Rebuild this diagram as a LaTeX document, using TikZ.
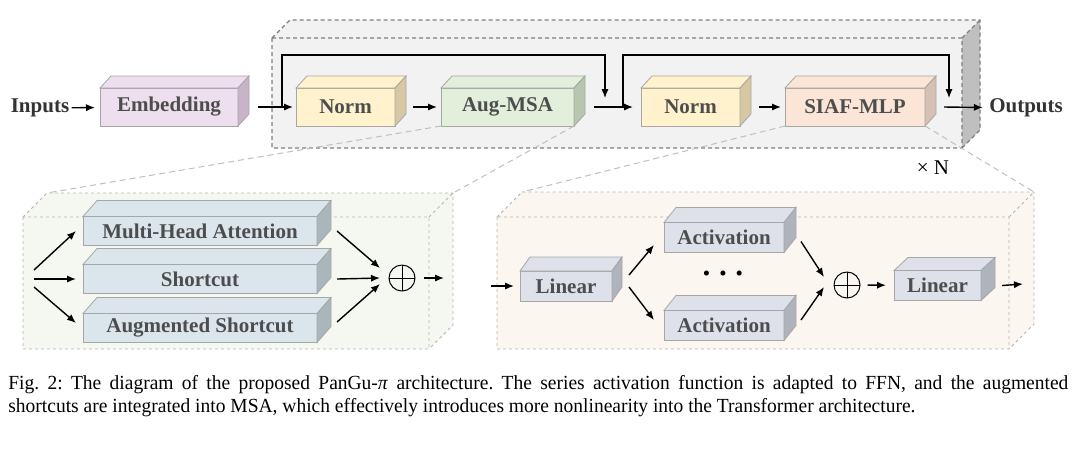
\documentclass[tikz,border=0pt]{standalone}
\usepackage{fontspec}
\setmainfont{Liberation Serif}
\newfontfamily\capfont[FakeStretch=0.975]{Liberation Serif}
\usetikzlibrary{positioning,arrows.meta}

\definecolor{embfill}{HTML}{EEDFEE}
\definecolor{embside}{HTML}{C9B3C8}
\definecolor{normfill}{HTML}{FFF2CC}
\definecolor{normside}{HTML}{D7C8A3}
\definecolor{msafill}{HTML}{E2EFDA}
\definecolor{msaside}{HTML}{B8C6AE}
\definecolor{mlpfill}{HTML}{FBE5D6}
\definecolor{mlpside}{HTML}{D6BFB3}
\definecolor{barfill}{HTML}{DAE6EC}
\definecolor{barside}{HTML}{A9B7BD}
\definecolor{linfill}{HTML}{DEE1EA}
\definecolor{linside}{HTML}{AFB3BC}
\definecolor{blkline}{HTML}{A6A6A6}
\definecolor{labeltext}{HTML}{4D4D4D}
\definecolor{layerfill}{HTML}{F2F2F2}
\definecolor{layerside}{HTML}{BFBFBF}
\definecolor{layerline}{HTML}{7F7F7F}
\definecolor{msapanel}{HTML}{F5F8F1}
\definecolor{mlppanel}{HTML}{FCF6F1}
\definecolor{panelline}{HTML}{B4B4B4}

\newcommand\lblfont{\bfseries\fontsize{10.5}{12}\selectfont}
% side and top faces of a block: node, dx, dy, top colour, side colour
\newcommand\blkdepth[5]{%
  \filldraw[draw=blkline, line width=0.4pt, fill=#4] (#1.north west) -- ++(#2,-#3) -- ([shift={(#2,-#3)}]#1.north east) -- (#1.north east) -- cycle;
  \filldraw[draw=blkline, line width=0.4pt, fill=#5] (#1.north east) -- ++(#2,-#3) -- ([shift={(#2,-#3)}]#1.south east) -- (#1.south east) -- cycle;}

\tikzset{
  blk/.style = {draw=blkline, line width=0.4pt, inner sep=0pt, outer sep=0pt, minimum height=19pt, font=\lblfont, text=labeltext},
  bar/.style = {blk, fill=barfill, minimum width=117pt, minimum height=14.5pt},
  lin/.style = {blk, fill=linfill, minimum width=46pt, minimum height=15pt},
  io/.style = {inner sep=1pt, font=\lblfont, text=black!80},
  arr/.style = {-{Latex[length=4.5pt,width=3.6pt]}, line width=0.7pt},
  layer/.style = {draw=layerline, line width=0.6pt, dash pattern=on 2pt off 1.5pt},
  panel/.style = {draw=panelline, line width=0.4pt, dash pattern=on 1.5pt off 1.5pt},
  zoomline/.style = {draw=layerside, line width=0.5pt, dash pattern=on 3pt off 2pt},
  oplus/.style = {circle, draw, line width=0.5pt, minimum size=13pt, inner sep=0pt,
    path picture={\draw[line width=0.5pt] (path picture bounding box.north) -- (path picture bounding box.south)
      (path picture bounding box.west) -- (path picture bounding box.east);}}
}

\begin{document}
\begin{tikzpicture}[x=0.5pt, y=-0.5pt]
\useasboundingbox (0,0) rectangle (1080,463);

% repeated layer
\fill[layerfill] (272,38) -- (290,20) -- (980,20) -- (962,38) -- cycle;
\fill[layerfill] (272,38) rectangle (962,148);
\fill[layerside] (962,38) -- (980,20) -- (980,130) -- (962,148) -- cycle;
\draw[layer] (272,38) rectangle (962,148) (272,38) -- (290,20) -- (980,20) -- (980,130) -- (962,148) (962,38) -- (980,20);

% top row
\node[io] (inp) at (40,108) {Inputs};
\node[blk, fill=embfill, minimum width=69pt] (emb) at (169,107) {Embedding};
\node[blk, fill=normfill, minimum width=49.5pt, right=29pt of emb] (norma) {Norm};
\node[blk, fill=msafill, minimum width=66.5pt, right=23pt of norma] (aug) {Aug-MSA};
\node[blk, fill=normfill, minimum width=49.5pt, right=33.5pt of aug] (normb) {Norm};
\node[blk, fill=mlpfill, minimum width=70pt, right=22.5pt of normb] (siaf) {SIAF-MLP};
\node[io] (outp) at (1026,108) {Outputs};
\node[font=\fontsize{10.5}{12}\selectfont] (times) at (933,168) {× N};
\blkdepth{emb}{11}{12}{embfill}{embside}
\blkdepth{norma}{11}{12}{normfill}{normside}
\blkdepth{aug}{11}{12}{msafill}{msaside}
\blkdepth{normb}{11}{12}{normfill}{normside}
\blkdepth{siaf}{11}{12}{mlpfill}{mlpside}

\draw[arr, shorten >=2.5pt] (inp) -- (emb);
\draw[arr] ([xshift=10pt]emb.east) -- ([xshift=-1.5pt]norma.west);
\draw[arr] ([xshift=9pt]norma.east) -- ([xshift=-2pt]aug.west);
\draw[arr] ([xshift=10pt]aug.east) -- ([xshift=-4pt]normb.west);
\draw[arr] ([xshift=9.5pt]normb.east) -- ([xshift=-2pt]siaf.west);
\draw[arr, shorten >=2pt] ([xshift=9.5pt]siaf.east) -- (outp);

% residual paths
\coordinate (ska) at (282,108);
\coordinate (skb) at (605,98);
\coordinate (skc) at (623,108);
\coordinate (skd) at (949,98);
\draw[arr, line width=0.6pt] (ska) -- ++(0,-53) -| (skb);
\draw[arr, line width=0.6pt] (skc) -- ++(0,-53) -| (skd);

% zoom panels
\coordinate (msatl) at (47,193);
\coordinate (msatr) at (453,193);
\coordinate (mlptl) at (522,192);
\coordinate (mlptr) at (1034,192);
\fill[msapanel] (23,217) -- (msatl) -- (msatr) -- (453,325) -- (429,349) -- (23,349) -- cycle;
\draw[panel] (23,217) rectangle (429,349) (23,217) -- (msatl) -- (msatr) -- (453,325) -- (429,349) (429,217) -- (msatr);
\fill[mlppanel] (497,217) -- (mlptl) -- (mlptr) -- (1034,324) -- (1009,349) -- (497,349) -- cycle;
\draw[panel] (497,217) rectangle (1009,349) (497,217) -- (mlptl) -- (mlptr) -- (1034,324) -- (1009,349) (1009,217) -- (mlptr);
\draw[zoomline] (aug.south west) -- (msatl) (aug.south east) -- (msatr);
\draw[zoomline] (siaf.south west) -- (mlptl) (siaf.south east) -- (mlptr);

% Aug-MSA
\coordinate (msain) at (34,279);
\coordinate (msaout) at (444,278);
\node[bar] (mha) at (200,231) {Multi-Head Attention};
\node[bar] (sc) at (200,279) {Shortcut};
\node[bar] (asc) at (200,328) {Augmented Shortcut};
\node[oplus] (adda) at (402,278) {};
\blkdepth{mha}{14}{16}{barfill}{barside}
\blkdepth{sc}{14}{16}{barfill}{barside}
\blkdepth{asc}{14}{16}{barfill}{barside}
\draw[arr] ([yshift=4.5pt]msain) -- ([xshift=-3.5pt]mha.west);
\draw[arr] (msain) -- ([xshift=-3.5pt]sc.west);
\draw[arr] ([yshift=-4pt]msain) -- ([xshift=-3.5pt,yshift=2.5pt]asc.west);
\draw[arr] ([xshift=10pt]mha.east) -- ([xshift=-11pt,yshift=5pt]adda.center);
\draw[arr] ([xshift=10pt]sc.east) -- ([xshift=-11pt]adda.center);
\draw[arr] ([xshift=10pt,yshift=3pt]asc.east) -- ([xshift=-11pt,yshift=-3pt]adda.center);
\draw[arr, shorten <=4pt] (adda) -- (msaout);

% SIAF-MLP
\coordinate (mlpin) at (491,286);
\coordinate (mlpout) at (1023,284);
\node[lin] (lina) at (566,286) {Linear};
\node[lin, minimum width=60pt] (acta) at (724,237.5) {Activation};
\node[lin, minimum width=60pt] (actb) at (724,325.5) {Activation};
\node[font=\fontsize{10.5}{12}\selectfont] (dots) at (723,276) {•\hspace{4.5pt}•\hspace{4.5pt}•};
\node[oplus] (addb) at (847,285) {};
\node[lin, minimum width=43.5pt] (linb) at (937.5,285.5) {Linear};
\blkdepth{lina}{10}{14}{linfill}{linside}
\blkdepth{acta}{12}{15}{linfill}{linside}
\blkdepth{actb}{12}{15}{linfill}{linside}
\blkdepth{linb}{14}{13}{linfill}{linside}
\draw[arr] (mlpin) -- ([xshift=-3pt]lina.west);
\draw[arr] ([xshift=8.5pt,yshift=5.5pt]lina.east) -- ([xshift=-5pt,yshift=-3.75pt]acta.west);
\draw[arr] ([xshift=8.5pt,yshift=-0.5pt]lina.east) -- ([xshift=-5pt,yshift=2.75pt]actb.west);
\draw[arr] ([xshift=8.5pt,yshift=-2pt]acta.east) -- ([xshift=-11.5pt,yshift=4pt]addb.center);
\draw[arr] ([xshift=8.5pt,yshift=2.75pt]actb.east) -- ([xshift=-11.5pt,yshift=-1pt]addb.center);
\draw[arr, shorten <=3.5pt, shorten >=4pt] (addb) -- (linb);
\draw[arr] ([xshift=10.5pt]linb.east) -- (mlpout);

% caption
\node[anchor=north west, inner sep=0pt, text width=530pt, align=justify, font=\capfont\fontsize{10}{11.5}\selectfont\frenchspacing] (caption) at (8,375)
  {Fig. 2: The diagram of the proposed PanGu-\textit{π} architecture. The series activation function is adapted to FFN, and the augmented\linebreak
   shortcuts are integrated into MSA, which effectively introduces more nonlinearity into the Transformer architecture.};
\end{tikzpicture}
\end{document}
